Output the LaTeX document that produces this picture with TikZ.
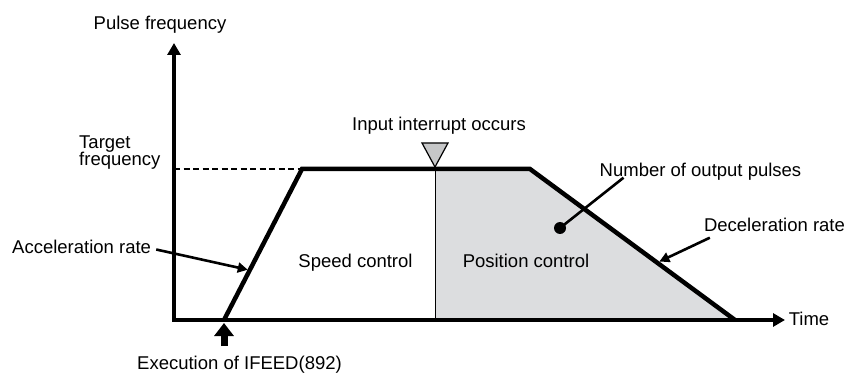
\documentclass[tikz,border=0pt]{standalone}
\usepackage{fontspec}
\setmainfont{Liberation Sans}
\usetikzlibrary{arrows.meta,calc}
\definecolor{positiongray}{HTML}{DCDDDF}
\definecolor{markgray}{HTML}{C6C7C8}
\begin{document}
\begin{tikzpicture}[x=1pt,y=-1pt,line join=miter,
  font=\fontsize{18.5}{17.5}\selectfont,
  axis/.style={line width=4pt,{Triangle[length=12pt,width=13pt]}-{Triangle[length=12pt,width=13pt]}},
  profile/.style={line width=4.5pt},
  pointer/.style={line width=2.6pt,-{Triangle[length=10pt,width=10pt]}},
  caption/.style={inner sep=0pt,anchor=base}]
  \useasboundingbox (0,0) rectangle (846,374);
  % corners of the pulse profile
  \coordinate (origin) at (174,320);
  \coordinate (ytip) at (174,43);
  \coordinate (xtip) at (785,320);
  \coordinate (start) at (224,320);
  \coordinate (reach) at (302,169);
  \coordinate (interrupt) at (435,169);
  \coordinate (brake) at (530,169);
  \coordinate (stop) at (735,320);
  \coordinate (switch) at (435,320);
  \fill[positiongray] (interrupt) -- (brake) -- (stop) -- (switch) -- cycle;
  \draw[line width=1pt] (interrupt) -- (switch);
  \draw[line width=2.5pt,dash pattern=on 6pt off 3.5pt] (origin |- reach) -- (reach);
  \draw[axis] (ytip) -- (origin) -- (xtip);
  \draw[profile] (start) -- (reach) -- (brake) -- (stop);
  \draw[line width=1.2pt,fill=markgray] ($(interrupt)+(-13,-26)$) -- ($(interrupt)+(13,-26)$)
    -- ($(interrupt)+(0,-2)$) -- cycle;
  % texts
  \node[caption] (yname) at (160,29.5) {Pulse frequency};
  \node[caption] (tname) at (809,325) {Time};
  \node[caption,anchor=base west,align=left] (target) at (79,165.7) {Target\\frequency};
  \node[caption] (irq) at (439,131) {Input interrupt occurs};
  \node[caption] (speed) at (355.5,267.5) {Speed control};
  \node[caption] (position) at (526,267.5) {Position control};
  \node[caption] (pulses) at (700.5,176.7) {Number of output pulses};
  \node[caption] (decel) at (774.5,231.7) {Deceleration rate};
  \node[caption,anchor=base west] (accel) at (12,253.5) {Acceleration rate};
  \node[caption] (exec) at (239.5,369) {Execution of IFEED(892)};
  % pointers
  \coordinate (accelhit) at ($(start)!.33!(reach)$);
  \coordinate (decelhit) at ($(brake)!.62!(stop)$);
  \coordinate (dot) at (560,228);
  \draw[pointer,shorten >=2pt] ([xshift=5pt,yshift=4pt]accel.base east) -- (accelhit);
  \draw[pointer,shorten >=2.5pt] ([xshift=6pt,yshift=-6pt]decel.base west) -- (decelhit);
  \draw[line width=2.6pt] ([xshift=24pt,yshift=-1pt]pulses.base west) -- (dot);
  \fill (dot) circle[radius=6];
  \draw[line width=7pt,-{Triangle[length=13pt,width=19pt]}] ([yshift=-26pt]start) -- ([yshift=-3pt]start);
\end{tikzpicture}
\end{document}
